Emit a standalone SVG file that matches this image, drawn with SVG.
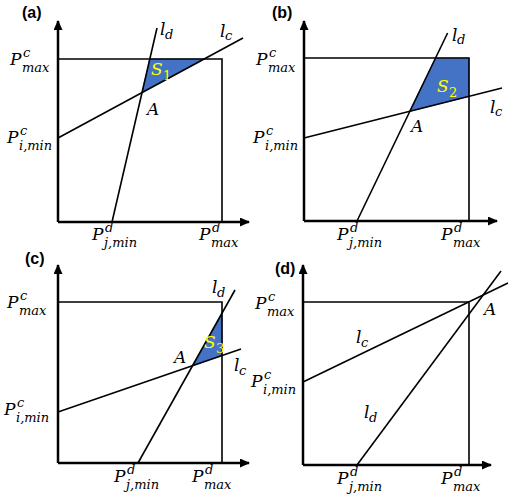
<svg xmlns="http://www.w3.org/2000/svg" width="509" height="500" viewBox="0 0 509 500">
<style>
.ax{stroke:#000;stroke-width:2.5;fill:none}
.bx{stroke:#000;stroke-width:1.6;fill:none}
.ln{stroke:#000;stroke-width:1.6;fill:none}
.reg{fill:#4472C4;stroke:#4472C4;stroke-width:0.8}
.m{font-family:"DejaVu Serif","Liberation Serif",serif;font-style:italic;font-size:17px;fill:#000}
.s{font-size:13px}
.up{font-style:normal}
.y{fill:#FFFF00}
.pl{font-family:"Liberation Sans",Arial,sans-serif;font-weight:bold;font-size:16px;fill:#000}
</style>
<defs>
<marker id="arr" markerUnits="userSpaceOnUse" markerWidth="10" markerHeight="9" refX="9" refY="4.5" orient="auto">
<path d="M0,0 L10,4.5 L0,9 z" fill="#000"/>
</marker>
</defs>

<g id="panel-a">
<text class="pl" x="22" y="18">(a)</text>
<polygon id="S1" class="reg" points="142,92.6 149.8,59 204.2,59"/>
<g id="axes-a">
<path class="bx" d="M58,59 H222 V222"/>
<path class="ax" d="M58,222 V21" marker-end="url(#arr)"/>
<path class="ax" d="M58,222 H249" marker-end="url(#arr)"/>
</g>
<g id="lines-a">
<line class="ln" x1="112" y1="222" x2="157" y2="28"/>
<line class="ln" x1="58" y1="138" x2="243" y2="38"/>
</g>
<text class="m" x="10" y="65">P<tspan class="s" x="23" y="57">c</tspan><tspan class="s" x="22" y="72">max</tspan></text>
<text class="m" x="7" y="143">P<tspan class="s" x="20" y="135">c</tspan><tspan class="s" x="19" y="150">i,min</tspan></text>
<text class="m" x="92" y="240">P<tspan class="s" x="105" y="232">d</tspan><tspan class="s" x="104" y="247">j,min</tspan></text>
<text class="m" x="199" y="240">P<tspan class="s" x="212" y="232">d</tspan><tspan class="s" x="211" y="247">max</tspan></text>
<text class="m" x="160" y="35">l<tspan class="s" x="165" y="39">d</tspan></text>
<text class="m" x="220" y="37">l<tspan class="s" x="225" y="40">c</tspan></text>
<text class="m y" x="151" y="75">S<tspan class="s up" x="163" y="80">1</tspan></text>
<text class="m" x="147" y="115">A</text>
</g>

<g id="panel-b">
<text class="pl" x="272" y="18">(b)</text>
<polygon id="S2" class="reg" points="409.5,111.4 435.5,58 469,58 469,96.3"/>
<g id="axes-b">
<path class="bx" d="M304,58 H469 V221"/>
<path class="ax" d="M304,221 V21" marker-end="url(#arr)"/>
<path class="ax" d="M304,221 H497" marker-end="url(#arr)"/>
</g>
<g id="lines-b">
<line class="ln" x1="357" y1="221" x2="447.6" y2="33"/>
<line class="ln" x1="304" y1="138" x2="502" y2="88"/>
</g>
<text class="m" x="256" y="65">P<tspan class="s" x="269" y="57">c</tspan><tspan class="s" x="268" y="72">max</tspan></text>
<text class="m" x="253" y="143">P<tspan class="s" x="266" y="135">c</tspan><tspan class="s" x="265" y="150">i,min</tspan></text>
<text class="m" x="337" y="240">P<tspan class="s" x="350" y="232">d</tspan><tspan class="s" x="349" y="247">j,min</tspan></text>
<text class="m" x="441" y="240">P<tspan class="s" x="454" y="232">d</tspan><tspan class="s" x="453" y="247">max</tspan></text>
<text class="m" x="452" y="41">l<tspan class="s" x="457" y="44">d</tspan></text>
<text class="m" x="490" y="113">l<tspan class="s" x="495" y="116">c</tspan></text>
<text class="m y" x="437" y="92">S<tspan class="s up" x="449" y="97">2</tspan></text>
<text class="m" x="411" y="132">A</text>
</g>

<g id="panel-c">
<text class="pl" x="25" y="264">(c)</text>
<polygon id="S3" class="reg" points="192.6,365.7 222,313.2 222,355.5"/>
<g id="axes-c">
<path class="bx" d="M58,302 H222 V463"/>
<path class="ax" d="M58,463 V265" marker-end="url(#arr)"/>
<path class="ax" d="M58,463 H249" marker-end="url(#arr)"/>
</g>
<g id="lines-c">
<line class="ln" x1="138" y1="463" x2="235" y2="290"/>
<line class="ln" x1="58" y1="412" x2="241" y2="349"/>
</g>
<text class="m" x="7" y="308">P<tspan class="s" x="20" y="300">c</tspan><tspan class="s" x="19" y="315">max</tspan></text>
<text class="m" x="4" y="415">P<tspan class="s" x="17" y="407">c</tspan><tspan class="s" x="16" y="422">i,min</tspan></text>
<text class="m" x="114" y="482">P<tspan class="s" x="127" y="474">d</tspan><tspan class="s" x="126" y="489">j,min</tspan></text>
<text class="m" x="192" y="482">P<tspan class="s" x="205" y="474">d</tspan><tspan class="s" x="204" y="489">max</tspan></text>
<text class="m" x="212" y="293">l<tspan class="s" x="217" y="297">d</tspan></text>
<text class="m" x="234" y="371">l<tspan class="s" x="239" y="375">c</tspan></text>
<text class="m y" x="204" y="348">S<tspan class="s up" x="216" y="353">3</tspan></text>
<text class="m" x="174" y="363">A</text>
</g>

<g id="panel-d">
<text class="pl" x="275" y="274">(d)</text>
<g id="axes-d">
<path class="bx" d="M303,302 H469 V465"/>
<path class="ax" d="M303,465 V265" marker-end="url(#arr)"/>
<path class="ax" d="M303,465 H491" marker-end="url(#arr)"/>
</g>
<g id="lines-d">
<line class="ln" x1="303" y1="382" x2="508" y2="283"/>
<line class="ln" x1="357" y1="465" x2="501" y2="271"/>
</g>
<text class="m" x="255" y="309">P<tspan class="s" x="268" y="301">c</tspan><tspan class="s" x="267" y="316">max</tspan></text>
<text class="m" x="251" y="387">P<tspan class="s" x="264" y="379">c</tspan><tspan class="s" x="263" y="394">i,min</tspan></text>
<text class="m" x="337" y="484">P<tspan class="s" x="350" y="476">d</tspan><tspan class="s" x="349" y="491">j,min</tspan></text>
<text class="m" x="441" y="484">P<tspan class="s" x="454" y="476">d</tspan><tspan class="s" x="453" y="491">max</tspan></text>
<text class="m" x="356" y="343">l<tspan class="s" x="361" y="347">c</tspan></text>
<text class="m" x="364" y="418">l<tspan class="s" x="369" y="422">d</tspan></text>
<text class="m" x="484" y="315">A</text>
</g>
</svg>
